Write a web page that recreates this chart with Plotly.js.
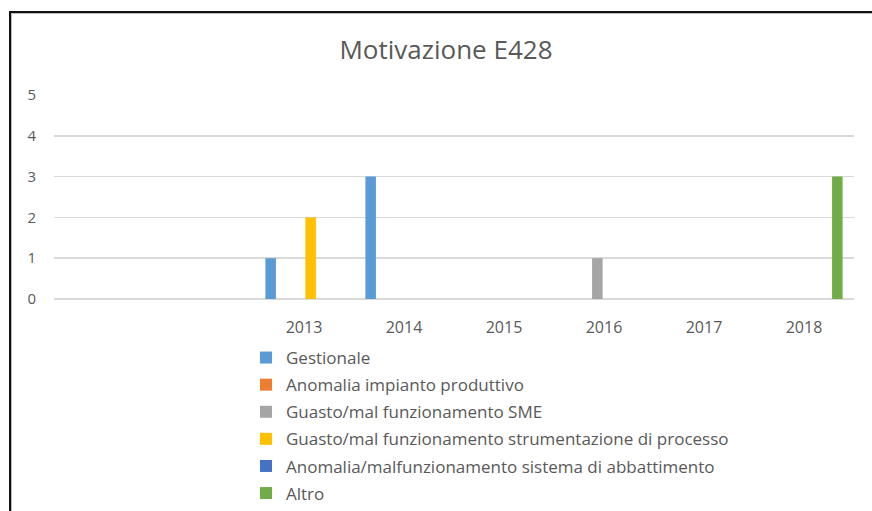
<!DOCTYPE html>
<html><head><meta charset="utf-8">
<script src="https://cdn.plot.ly/plotly-3.0.1.min.js"></script>
<style>
html,body{margin:0;padding:0;background:#fff;}
#wrap{position:relative;width:872px;height:511px;overflow:hidden;}
#chart{width:872px;height:511px;}
#frame{position:absolute;left:9px;top:11px;width:900px;height:600px;border-left:2px solid #111;border-top:2px solid #111;box-shadow:1px 1px 0 #bbb inset;pointer-events:none;}
</style></head>
<body><div id="wrap"><div id="chart"></div><div id="frame"></div></div>
<script>
const categories = [" ", "  ", "2013", "2014", "2015", "2016", "2017", "2018"];
const seriesNames = ["Gestionale", "Anomalia impianto produttivo", "Guasto/mal funzionamento SME", "Guasto/mal funzionamento strumentazione di processo", "Anomalia/malfunzionamento sistema di abbattimento", "Altro"];
const gestionale = [0, 0, 1, 3, 0, 0, 0, 0];
const anomaliaImpianto = [0, 0, 0, 0, 0, 0, 0, 0];
const guastoSME = [0, 0, 0, 0, 0, 1, 0, 0];
const guastoStrumentazione = [0, 0, 2, 0, 0, 0, 0, 0];
const anomaliaAbbattimento = [0, 0, 0, 0, 0, 0, 0, 0];
const altro = [0, 0, 0, 0, 0, 0, 0, 3];
const seriesValues = [gestionale, anomaliaImpianto, guastoSME, guastoStrumentazione, anomaliaAbbattimento, altro];
const colors = ["#5b9bd5", "#ed7d31", "#a5a5a5", "#ffc000", "#4472c4", "#70ad47"];

const traces = seriesNames.map((n, i) => ({
  type: "bar", name: n, x: categories, y: seriesValues[i],
  marker: {color: colors[i]}, legendgroup: "g" + i, hoverinfo: "y"
}));

const font = "Open Sans, sans-serif";
const layout = {
  width: 872, height: 511,
  margin: {l: 54, r: 18, t: 95, b: 212},
  paper_bgcolor: "#fff", plot_bgcolor: "#fff",
  title: {text: "Motivazione E428", font: {family: font, size: 26, color: "#595959"}, x: 446/872, xanchor: "center", xref: "container", y: 1 - 50/511, yanchor: "middle", yref: "container"},
  barmode: "group", bargap: 0.2, bargroupgap: 0.21,
  xaxis: {type: "category", categoryorder: "array", categoryarray: categories, showgrid: false, zeroline: false, showline: false,
          tickangle: 0, ticks: "outside", ticklen: 14, tickcolor: "rgba(0,0,0,0)", tickfont: {family: font, size: 16, color: "#595959"}},
  yaxis: {range: [0, 5], dtick: 1, showgrid: true, gridcolor: "#d9d9d9", gridwidth: 1.5, zeroline: true, zerolinecolor: "#d9d9d9", zerolinewidth: 1.5, showline: false,
          ticks: "outside", ticklen: 14, tickcolor: "rgba(0,0,0,0)", tickfont: {family: font, size: 15, color: "#595959"}},
  showlegend: true,
  legend: {orientation: "v", x: (246-54)/800, xref: "paper", xanchor: "left", y: 1 - 340/511, yref: "container", yanchor: "top", traceorder: "grouped", tracegroupgap: 2,
           font: {family: font, size: 17, color: "#595959"}, bgcolor: "rgba(0,0,0,0)"}
};
Plotly.newPlot("chart", traces, layout, {displayModeBar: false, staticPlot: true});
</script></body></html>
